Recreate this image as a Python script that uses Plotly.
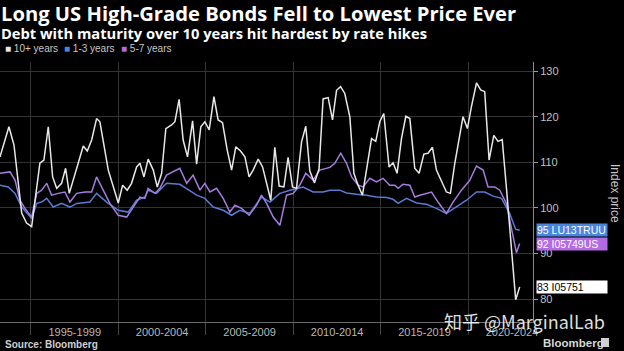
import plotly.graph_objects as go

# ---- data (decimal years, index price) ----
long_x = [1993.23, 1993.74, 1994.03, 1994.47, 1994.75, 1995.04, 1995.51, 1995.74, 1995.99, 1996.24,
          1996.47, 1996.75, 1996.98, 1997.19, 1997.70, 1997.99, 1998.22, 1998.47, 1998.75, 1998.94,
          1999.42, 1999.80, 1999.99, 2000.24, 2000.50, 2000.75, 2001.04, 2001.23, 2001.46, 2001.70,
          2001.99, 2002.22, 2002.47, 2002.71, 2003.04, 2003.23, 2003.47, 2003.70, 2003.95, 2004.24,
          2004.47, 2004.71, 2004.94, 2005.19, 2005.46, 2005.70, 2005.95, 2006.22, 2006.47, 2006.71,
          2006.98, 2007.23, 2007.47, 2007.70, 2007.99, 2008.24, 2008.47, 2008.71, 2008.94, 2009.19,
          2009.46, 2009.70, 2009.95, 2010.18, 2010.47, 2010.71, 2010.94, 2011.21, 2011.47, 2011.70,
          2011.99, 2012.24, 2012.47, 2012.70, 2012.94, 2013.23, 2013.46, 2013.70, 2013.95, 2014.22,
          2014.47, 2014.71, 2014.94, 2015.17, 2015.47, 2015.70, 2015.93, 2016.18, 2016.43, 2016.66,
          2016.94, 2017.19, 2017.46, 2017.70, 2017.95, 2018.18, 2018.47, 2018.75, 2018.98, 2019.23,
          2019.70, 2019.95, 2020.18, 2020.47, 2020.71, 2020.94, 2021.19, 2021.46, 2021.70, 2021.94,
          2022.19, 2022.44, 2022.71, 2022.94]
long_y = [111.2, 117.8, 113.8, 98.9, 96.7, 95.9, 109.8, 110.5, 117.8, 106.8,
          104.3, 105.4, 108.7, 103.2, 109.8, 113.6, 112.5, 114.9, 119.6, 118.9,
          108.3, 103.2, 101.1, 105.0, 103.9, 105.4, 109.0, 109.8, 106.8, 110.7,
          108.3, 104.6, 107.6, 117.4, 118.2, 118.9, 123.8, 114.9, 111.2, 119.1,
          109.6, 117.8, 118.9, 117.1, 124.4, 119.3, 118.7, 112.7, 108.3, 113.4,
          112.5, 111.2, 106.8, 108.3, 110.7, 109.0, 105.4, 101.7, 113.3, 104.8,
          104.6, 111.1, 104.6, 104.3, 114.5, 117.9, 108.1, 105.5, 108.6, 123.9,
          124.2, 119.3, 125.8, 126.6, 125.1, 120.0, 107.6, 105.0, 102.8, 109.0,
          115.2, 114.6, 118.9, 120.7, 109.0, 109.9, 107.6, 115.2, 120.1, 119.6,
          108.7, 107.6, 111.8, 112.0, 113.3, 108.3, 105.7, 103.5, 103.2, 109.8,
          120.0, 117.4, 122.2, 127.4, 125.9, 125.5, 110.5, 115.9, 114.6, 115.0,
          104.0, 92.0, 79.9, 82.7]

short_x = [1993.23, 1993.70, 1994.09, 1994.47, 1995.04, 1995.33, 1995.61, 1995.90, 1996.27, 1996.75,
           1997.23, 1997.61, 1998.37, 1998.75, 1999.33, 1999.99, 2000.56, 2001.04, 2001.51, 2001.70,
           2002.18, 2002.75, 2003.51, 2003.90, 2004.47, 2004.94, 2005.42, 2005.99, 2006.47, 2006.94,
           2007.51, 2008.18, 2008.66, 2009.23, 2009.80, 2010.56, 2011.13, 2011.70, 2012.09, 2012.66,
           2013.04, 2013.61, 2014.18, 2014.75, 2015.33, 2015.70, 2015.99, 2016.47, 2017.04, 2017.61,
           2018.18, 2018.75, 2019.33, 2019.90, 2020.47, 2020.94, 2021.42, 2021.90, 2022.37, 2022.71,
           2022.94]
short_y = [105.0, 104.6, 103.2, 100.2, 97.7, 101.0, 101.3, 102.1, 100.2, 101.0,
           100.2, 101.0, 101.3, 103.2, 101.3, 99.5, 99.1, 101.7, 102.4, 103.9,
           103.2, 105.4, 105.2, 104.3, 102.8, 102.1, 100.2, 99.5, 98.4, 99.5,
           98.8, 102.4, 101.3, 103.2, 103.9, 104.6, 103.5, 103.5, 103.9, 103.9,
           103.3, 103.0, 102.8, 102.4, 102.3, 101.9, 101.0, 102.1, 101.1, 100.8,
           99.9, 98.8, 100.2, 101.7, 103.5, 103.5, 102.6, 102.1, 98.8, 95.3,
           95.1]

mid_x = [1993.23, 1993.80, 1994.09, 1994.37, 1994.66, 1995.04, 1995.33, 1995.61, 1995.90, 1996.18,
         1996.56, 1996.94, 1997.23, 1997.61, 1998.09, 1998.47, 1998.75, 1999.13, 1999.51, 1999.99,
         2000.47, 2000.85, 2001.23, 2001.51, 2001.70, 2002.09, 2002.37, 2002.75, 2003.13, 2003.51,
         2003.90, 2004.27, 2004.66, 2004.94, 2005.23, 2005.61, 2005.99, 2006.37, 2006.66, 2007.04,
         2007.47, 2007.90, 2008.18, 2008.47, 2008.85, 2009.23, 2009.61, 2009.99, 2010.37, 2010.71,
         2011.13, 2011.51, 2012.09, 2012.37, 2012.71, 2013.04, 2013.33, 2013.70, 2013.99, 2014.37,
         2014.75, 2015.13, 2015.51, 2015.80, 2015.99, 2016.27, 2016.66, 2016.94, 2017.23, 2017.61,
         2017.90, 2018.27, 2018.75, 2019.13, 2019.61, 2020.09, 2020.47, 2020.85, 2021.13, 2021.51,
         2021.80, 2022.18, 2022.47, 2022.75, 2022.94]
mid_y = [107.6, 107.9, 106.1, 101.7, 99.9, 98.0, 103.2, 103.9, 105.4, 102.8,
         103.2, 103.5, 101.3, 103.2, 103.5, 103.5, 106.8, 103.9, 101.0, 98.4,
         98.0, 100.2, 102.4, 102.1, 104.3, 103.2, 104.3, 107.2, 107.9, 108.7,
         105.4, 107.2, 103.9, 105.4, 103.5, 104.3, 102.1, 99.1, 100.6, 99.9,
         98.4, 100.6, 102.8, 101.0, 98.0, 96.2, 102.8, 103.2, 105.0, 107.6,
         106.1, 108.3, 108.9, 109.8, 112.0, 109.8, 106.8, 105.0, 104.6, 106.5,
         105.7, 106.5, 105.0, 105.0, 104.3, 105.2, 105.0, 102.4, 102.8, 103.2,
         103.5, 101.3, 98.8, 101.3, 103.9, 106.1, 109.2, 108.3, 104.6, 104.6,
         103.9, 101.0, 95.1, 90.2, 92.2]

series_names = ["10+ years", "1-3 years", "5-7 years"]
tickers = ["I05751", "LU13TRUU", "I05749US"]
period_labels = ["1995-1999", "2000-2004", "2005-2009", "2010-2014", "2015-2019", "2020-2024"]
period_mid = [1997.5, 2002.5, 2007.5, 2012.5, 2017.5, 2022.5]
period_edges = [1995, 2000, 2005, 2010, 2015, 2020]
y_ticks = [80, 90, 100, 110, 120, 130]

WHITE = "#e8e8e8"
BLUE = "#5a7bd3"
PURPLE = "#a57ddf"
BLUE_BOX = "#4a86de"
PURPLE_BOX = "#b36ae3"

X_RANGE = [1993.23, 2023.7]
Y_RANGE = [75, 132]

W, H = 624, 351
ML, MR, MT, MB = 0, 91, 62, 29
PW, PH = W - ML - MR, H - MT - MB


def px(x):
    return (x - ML) / PW


def py(y):
    return (H - MB - y) / PH


fig = go.Figure()
fig.add_trace(go.Scatter(x=short_x, y=short_y, mode="lines", line=dict(color=BLUE, width=1.5),
                         name=series_names[1], showlegend=False))
fig.add_trace(go.Scatter(x=mid_x, y=mid_y, mode="lines", line=dict(color=PURPLE, width=1.5),
                         name=series_names[2], showlegend=False))
fig.add_trace(go.Scatter(x=long_x, y=long_y, mode="lines", line=dict(color=WHITE, width=1.5),
                         name=series_names[0], showlegend=False))

fig.update_layout(
    width=W, height=H,
    margin=dict(l=ML, r=MR, t=MT, b=MB),
    paper_bgcolor="black", plot_bgcolor="black",
    font=dict(family="Liberation Sans, Arial, sans-serif", color="#cccccc"),
    xaxis=dict(
        range=X_RANGE, showgrid=False, zeroline=False,
        tickmode="array", tickvals=period_mid, ticktext=period_labels,
        ticks="", tickfont=dict(size=11, color="#b8b8b8"),
        showline=True, linecolor="#6a6a6a", linewidth=1,
        minor=dict(tickmode="array", tickvals=period_edges, ticks="outside", ticklen=12,
                   tickcolor="#444444", showgrid=True, gridcolor="#353535", gridwidth=1),
    ),
    yaxis=dict(
        range=Y_RANGE, side="right", zeroline=False,
        tickmode="array", tickvals=y_ticks,
        showgrid=True, gridcolor="#333333", gridwidth=1,
        ticks="outside", ticklen=4, tickcolor="#999999",
        tickfont=dict(size=11, color="#c0c0c0"),
        showline=True, linecolor="#8a8a8a", linewidth=1,
    ),
)

TF = "Open Sans, Liberation Sans, Arial, sans-serif"
ann = []
ann.append(dict(text="<b>Long US High-Grade Bonds Fell to Lowest Price Ever</b>", xref="paper", yref="paper",
                x=px(-1), y=py(13), xanchor="left", yanchor="middle", showarrow=False,
                font=dict(family=TF, size=20.2, color="white")))
ann.append(dict(text="<b>Debt with maturity over 10 years hit hardest by rate hikes</b>", xref="paper", yref="paper",
                x=px(-1), y=py(33), xanchor="left", yanchor="middle", showarrow=False,
                font=dict(family=TF, size=14.7, color="white")))
legend_items = [(series_names[0], WHITE, 3), (series_names[1], BLUE_BOX, 62), (series_names[2], PURPLE_BOX, 119)]
for name, col, lx in legend_items:
    ann.append(dict(text=f"<span style='color:{col}'>■</span> {name}", xref="paper", yref="paper",
                    x=px(lx), y=py(48.5), xanchor="left", yanchor="middle",
                    showarrow=False, font=dict(size=10, color="#c8c8c8")))
ann.append(dict(text="Index price", xref="paper", yref="paper", x=px(615), y=py(193),
                xanchor="center", yanchor="middle", textangle=90, showarrow=False,
                font=dict(size=12, color="#c8c8c8")))
ends = [(short_y[-1], tickers[1], BLUE_BOX, "white"),
        (mid_y[-1], tickers[2], PURPLE_BOX, "white"),
        (long_y[-1], tickers[0], "white", "black")]
for val, tk, bg, fc in ends:
    ann.append(dict(text=f"{round(val)} {tk}", xref="paper", yref="y", x=px(536), y=val, xanchor="left",
                    yanchor="middle", showarrow=False, bgcolor=bg, borderpad=0,
                    width=70, height=12, align="left", font=dict(size=10.5, color=fc)))
ann.append(dict(text="<b>Source: Bloomberg</b>", xref="paper", yref="paper", x=px(3), y=py(344),
                xanchor="left", yanchor="middle", showarrow=False,
                font=dict(size=10, color="#d0d0d0")))
ann.append(dict(text="<b>Bloomberg</b>", xref="paper", yref="paper", x=px(541), y=py(343),
                xanchor="left", yanchor="middle", showarrow=False,
                font=dict(size=11.5, color="#d8d8d8")))
ann.append(dict(text="知乎 @MarginalLab", xref="paper", yref="paper", x=px(442), y=py(321),
                xanchor="left", yanchor="middle", showarrow=False,
                font=dict(family="Noto Sans CJK SC", size=18, color="rgba(255,255,255,0.88)")))
fig.update_layout(annotations=ann)

shapes = []
for val, tk, bg, fc in ends:
    shapes.append(dict(type="path", xref="x", yref="y", xsizemode="pixel", ysizemode="pixel",
                       xanchor=X_RANGE[1], yanchor=val, path="M 0,0 L 4,-6 L 4,6 Z",
                       fillcolor=bg, line=dict(width=0)))
shapes.append(dict(type="rect", xref="paper", yref="paper",
                   x0=px(601), x1=px(609), y0=py(347), y1=py(338), fillcolor="#cfcfcf",
                   line=dict(width=0)))
fig.update_layout(shapes=shapes)

fig.write_html("out.html")
